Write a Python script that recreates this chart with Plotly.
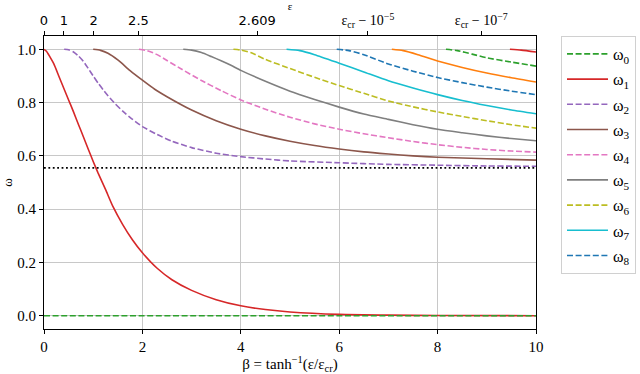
import numpy as np
import plotly.graph_objects as go

# critical field and the dotted asymptote
EPS_CR = 2.6099
OMEGA_INF = 0.555

# frequencies omega_n(beta)
BETA_0 = [0, 10]
OMEGA_0 = [0, 0]

BETA_1 = [0, 0.05, 0.1, 0.2, 0.3, 0.4, 0.5, 0.6, 0.7, 0.8, 0.9, 1.0, 1.1, 1.25, 1.4, 1.6,
          1.8, 2.0, 2.3, 2.6, 3.0, 3.5, 4.0, 4.5, 5.0, 6.0, 7.0, 8.0, 10.0]
OMEGA_1 = [1.0, 0.993, 0.978, 0.945, 0.9, 0.855, 0.81, 0.765, 0.718, 0.672, 0.625, 0.579,
           0.535, 0.474, 0.41, 0.342, 0.284, 0.236, 0.178, 0.135, 0.095, 0.06, 0.037, 0.023,
           0.014, 0.005, 0.002, 0.0007, 0.0]

BETA_2 = [0.41, 0.5, 0.6, 0.7, 0.8, 0.9, 1.0, 1.1, 1.2, 1.3, 1.45, 1.6, 1.8, 2.0, 2.3, 2.6,
          3.0, 3.5, 4.0, 4.5, 5.0, 6.0, 7.0, 8.0, 9.0, 10.0]
OMEGA_2 = [1.0, 0.998, 0.99, 0.975, 0.955, 0.928, 0.9, 0.873, 0.849, 0.826, 0.795, 0.768,
           0.737, 0.71, 0.68, 0.655, 0.631, 0.61, 0.597, 0.588, 0.581, 0.574, 0.568, 0.565,
           0.562, 0.561]

BETA_3 = [1.0, 1.15, 1.3, 1.5, 1.75, 2.0, 2.25, 2.5, 3.0, 3.5, 4.0, 4.5, 5.0, 5.5, 6.0, 6.5,
          7.0, 7.5, 8.0, 9.0, 10.0]
OMEGA_3 = [1.0, 0.996, 0.985, 0.96, 0.92, 0.884, 0.85, 0.822, 0.772, 0.732, 0.7, 0.675,
           0.655, 0.639, 0.626, 0.615, 0.607, 0.6, 0.595, 0.589, 0.584]

BETA_4 = [1.93, 2.1, 2.3, 2.5, 2.8, 3.2, 3.6, 4.0, 4.5, 5.0, 5.5, 6.0, 6.5, 7.0, 7.5, 8.0,
          8.5, 9.0, 9.5, 10.0]
OMEGA_4 = [1.0, 0.995, 0.98, 0.958, 0.925, 0.883, 0.845, 0.81, 0.775, 0.745, 0.72, 0.7,
           0.683, 0.668, 0.654, 0.642, 0.632, 0.624, 0.618, 0.614]

BETA_5 = [2.83, 3.0, 3.2, 3.4, 3.6, 3.8, 4.0, 4.5, 5.0, 5.5, 6.0, 6.5, 7.0, 7.5, 8.0, 8.5,
          9.0, 9.5, 10.0]
OMEGA_5 = [1.0, 0.997, 0.988, 0.973, 0.957, 0.94, 0.921, 0.88, 0.843, 0.812, 0.783, 0.757,
           0.737, 0.717, 0.7, 0.687, 0.675, 0.665, 0.657]

BETA_6 = [3.85, 4.0, 4.2, 4.5, 5.0, 5.5, 6.0, 6.5, 7.0, 7.5, 8.0, 8.5, 9.0, 9.5, 10.0]
OMEGA_6 = [1.0, 0.997, 0.988, 0.962, 0.928, 0.895, 0.864, 0.835, 0.806, 0.784, 0.765,
           0.748, 0.732, 0.717, 0.704]

BETA_7 = [4.93, 5.2, 5.5, 6.0, 6.5, 7.0, 7.5, 8.0, 8.5, 9.0, 9.5, 10.0]
OMEGA_7 = [1.0, 0.995, 0.98, 0.948, 0.915, 0.882, 0.855, 0.83, 0.808, 0.789, 0.772, 0.758]

BETA_8 = [5.95, 6.2, 6.5, 7.0, 7.5, 8.0, 8.5, 9.0, 9.5, 10.0]
OMEGA_8 = [1.0, 0.995, 0.98, 0.945, 0.918, 0.894, 0.875, 0.858, 0.843, 0.83]

BETA_9 = [7.07, 7.3, 7.6, 8.0, 8.5, 9.0, 9.5, 10.0]
OMEGA_9 = [1.0, 0.995, 0.98, 0.956, 0.932, 0.911, 0.893, 0.877]

BETA_10 = [8.17, 8.4, 8.7, 9.0, 9.5, 10.0]
OMEGA_10 = [1.0, 0.995, 0.982, 0.968, 0.952, 0.937]

BETA_11 = [9.47, 9.7, 10.0]
OMEGA_11 = [1.0, 0.997, 0.99]

BETAS = [BETA_0, BETA_1, BETA_2, BETA_3, BETA_4, BETA_5,
         BETA_6, BETA_7, BETA_8, BETA_9, BETA_10, BETA_11]
OMEGAS = [OMEGA_0, OMEGA_1, OMEGA_2, OMEGA_3, OMEGA_4, OMEGA_5,
          OMEGA_6, OMEGA_7, OMEGA_8, OMEGA_9, OMEGA_10, OMEGA_11]
N_LEGEND = 9

# top axis: epsilon values
EPS_TICKS = [0, 1, 2, 2.5, 2.609]
EPS_DELTAS = [1e-5, 1e-7]
EPS_DELTA_LABELS = ["−5", "−7"]

COLORS = ["#2ca02c", "#d62728", "#9467bd", "#8c564b", "#e377c2", "#7f7f7f",
          "#bcbd22", "#17becf", "#1f77b4", "#ff7f0e", "#2ca02c", "#d62728"]

SERIF = "Liberation Serif"
SANS = "DejaVu Sans"

fig = go.Figure()
for n, (b, w) in enumerate(zip(BETAS, OMEGAS)):
    fig.add_trace(go.Scatter(
        x=b, y=w, mode="lines",
        name=f"ω<sub>{n}</sub>",
        legendgroup=str(n),
        showlegend=n < N_LEGEND,
        # omega_0 sits on the top axis too, so that axis gets drawn
        xaxis="x2" if n == 0 else "x",
        line=dict(color=COLORS[n], width=1.6,
                  dash="6px,2.6px" if n % 2 == 0 else "solid",
                  shape="spline", smoothing=0.6),
    ))

fig.add_hline(y=OMEGA_INF, line=dict(color="black", width=1.8, dash="1.8px,2.6px"))

top_vals = [float(np.arctanh(e / EPS_CR)) for e in EPS_TICKS]
top_vals += [float(np.arctanh((EPS_CR - d) / EPS_CR)) for d in EPS_DELTAS]
top_text = [f'<span style="font-family:{SANS};font-size:13px">{e}</span>' for e in EPS_TICKS]
top_text += [f"ε<sub>cr</sub> − 10<sup>{s}</sup>" for s in EPS_DELTA_LABELS]

fig.update_layout(
    width=640, height=374,
    margin=dict(l=44, r=104, t=36, b=45),
    plot_bgcolor="white", paper_bgcolor="white",
    font=dict(family=SERIF, size=15, color="black"),
    xaxis=dict(
        range=[0, 10], tickvals=[0, 2, 4, 6, 8, 10], automargin=False,
        showgrid=True, gridcolor="#c8c8c8", gridwidth=1, zeroline=False,
        showline=True, linecolor="black", linewidth=1, mirror=True,
        ticks="outside", ticklen=4, tickcolor="black",
        title=dict(text="β = tanh<sup>−1</sup>(ε/ε<sub>cr</sub>)", standoff=4,
                   font=dict(size=15)),
    ),
    xaxis2=dict(
        overlaying="x", side="top", anchor="y", matches="x", automargin=False,
        range=[0, 10], tickmode="array", tickvals=top_vals, ticktext=top_text,
        showgrid=False, zeroline=False,
        showline=True, linecolor="black", linewidth=1,
        ticks="outside", ticklen=4, tickcolor="black",
        tickfont=dict(size=14),
        title=dict(text="ε", standoff=0, font=dict(size=11)),
    ),
    yaxis=dict(
        range=[-0.05, 1.05], tickvals=[0, 0.2, 0.4, 0.6, 0.8, 1.0], tickformat=".1f",
        automargin=False,
        showgrid=True, gridcolor="#c8c8c8", gridwidth=1, zeroline=False,
        showline=True, linecolor="black", linewidth=1, mirror=True,
        ticks="outside", ticklen=4, tickcolor="black",
        title=dict(text="ω", standoff=6, font=dict(size=13)),
    ),
    legend=dict(
        xref="container", yref="container",
        x=561 / 640, xanchor="left", y=1 - 36 / 374, yanchor="top",
        maxheight=320,
        bgcolor="white", bordercolor="#d0d0d0", borderwidth=1,
        font=dict(size=16), tracegroupgap=1.4, itemwidth=41,
    ),
)

# drop the browser's default page margin so the figure fills the window
fig.write_html("out.html", config={"displayModeBar": False},
               post_script="document.body.style.margin = '0';")
